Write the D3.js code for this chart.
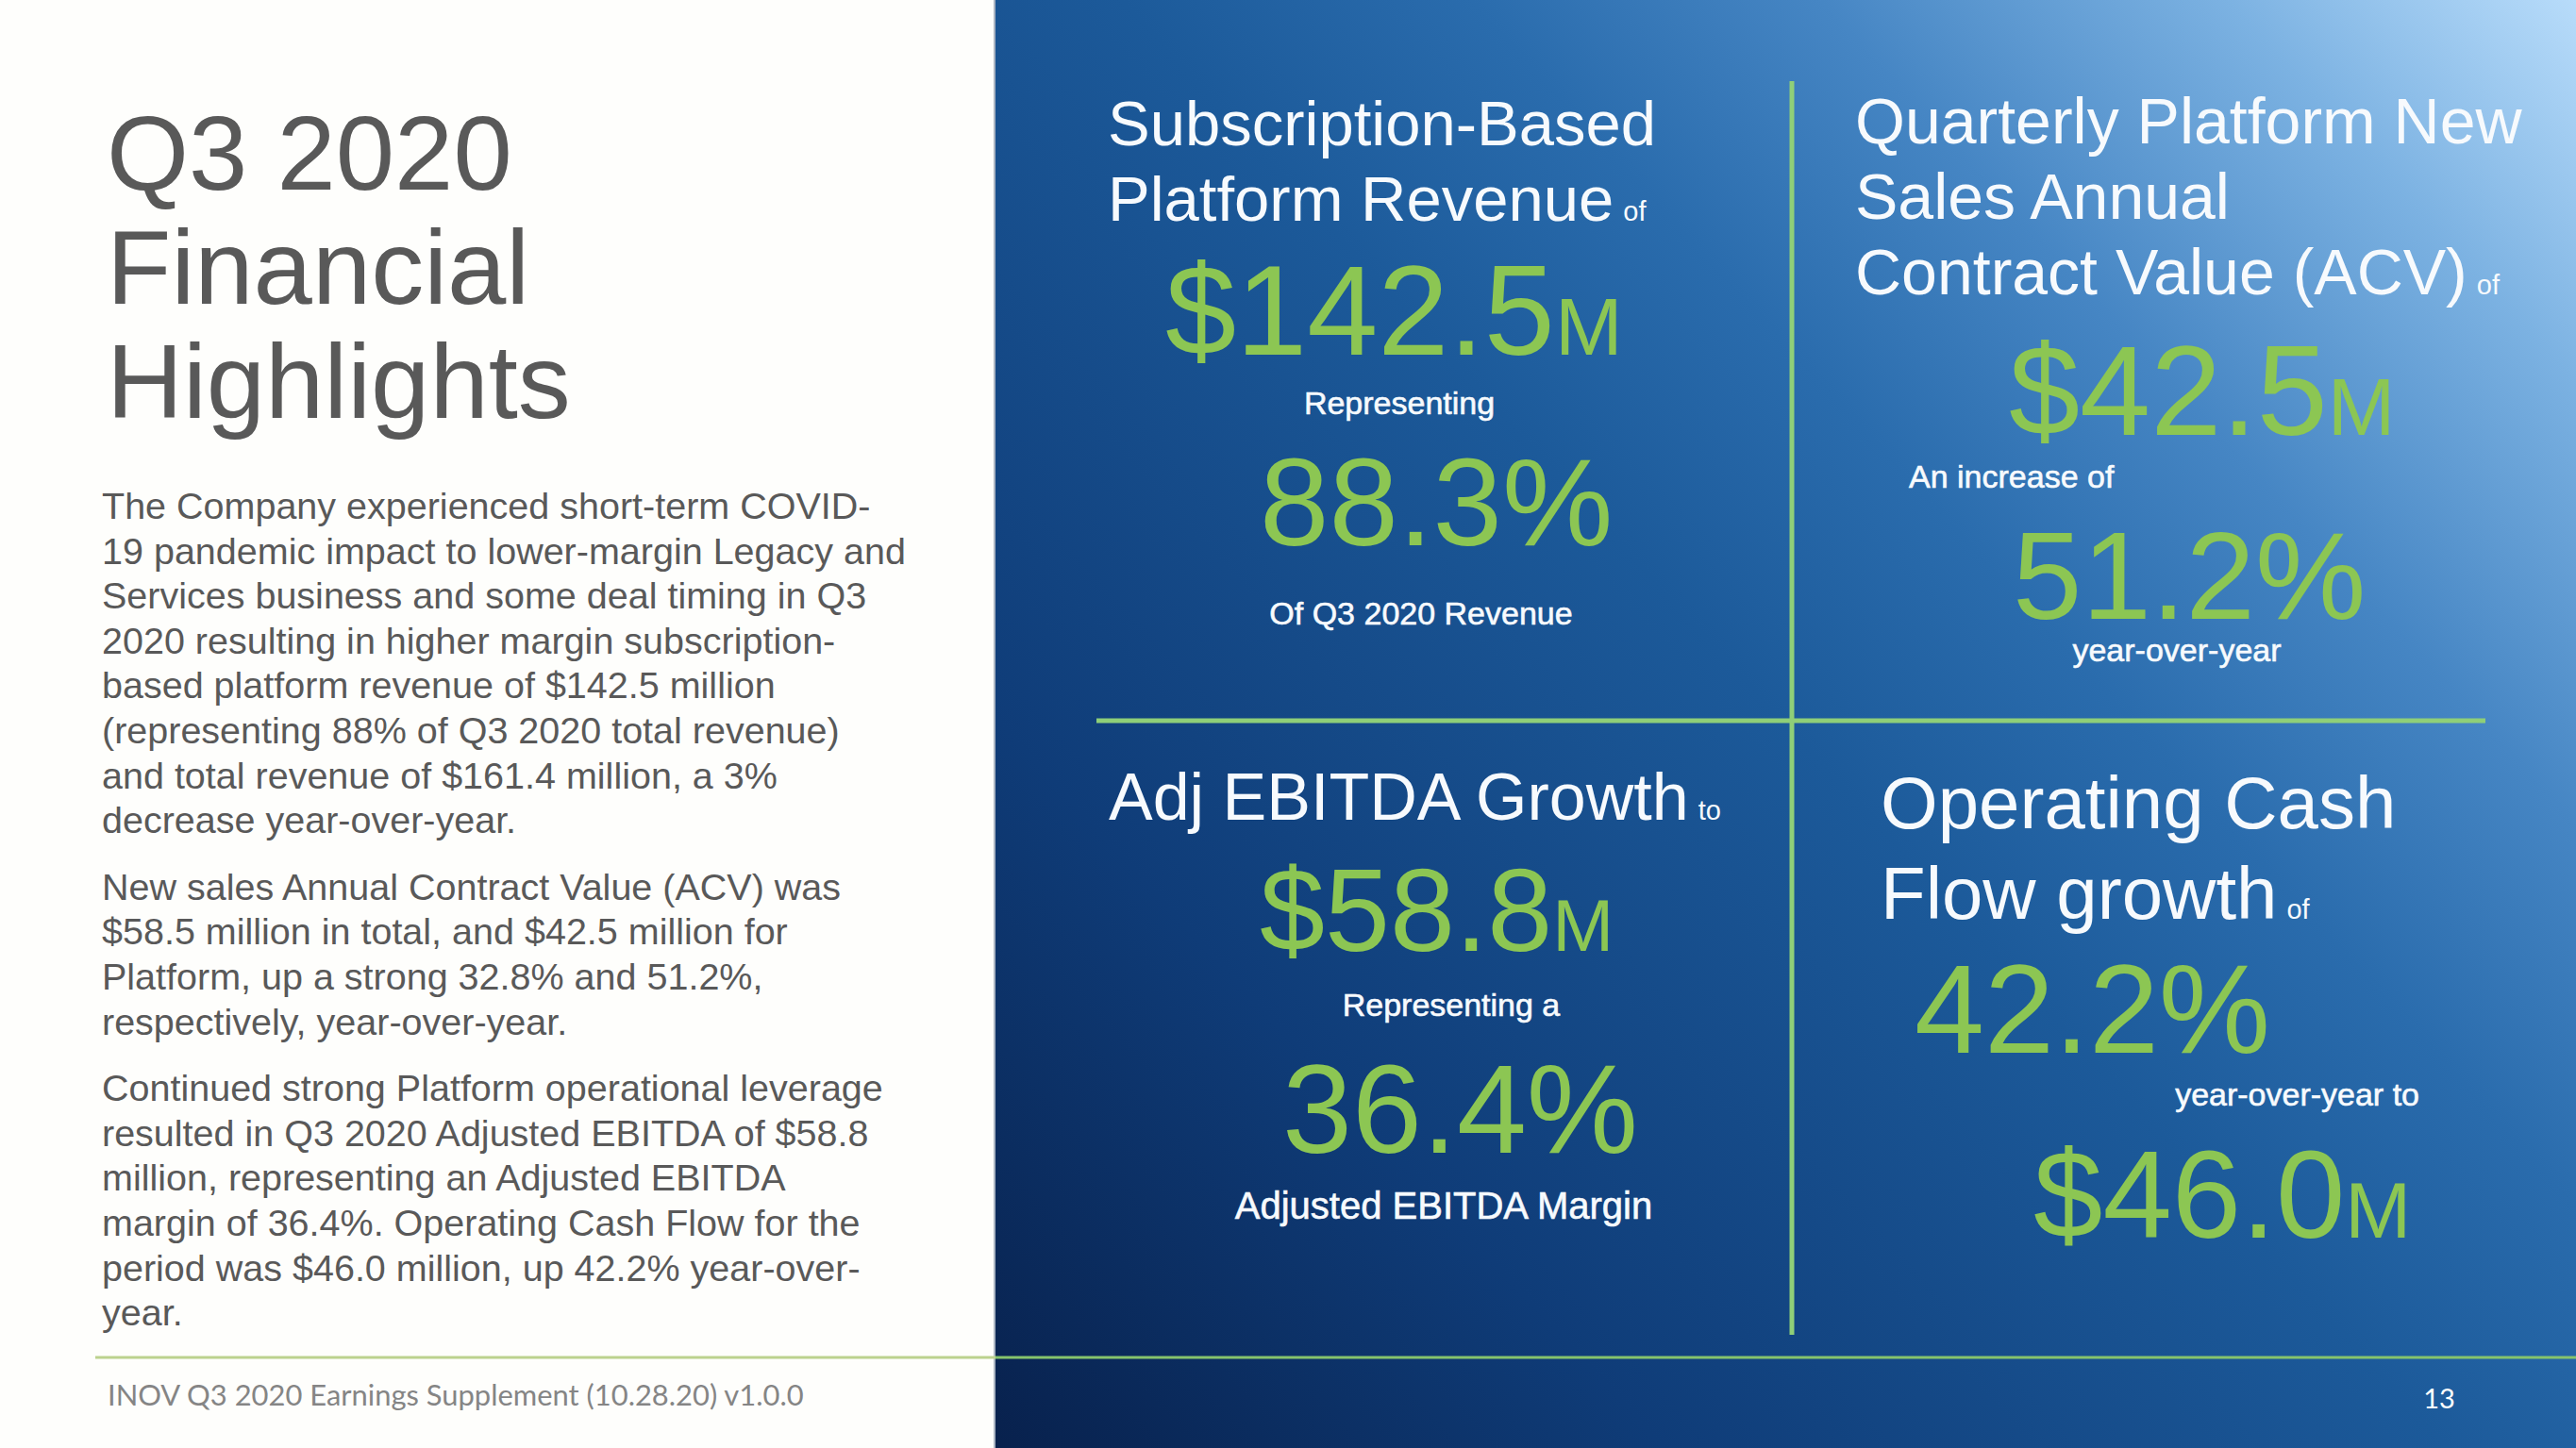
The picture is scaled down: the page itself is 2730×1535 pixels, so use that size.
<!DOCTYPE html>
<html>
<head>
<meta charset="utf-8">
<script src="https://cdn.jsdelivr.net/npm/d3@7"></script>
<style>
  html, body { margin: 0; padding: 0; background: #fefefc; }
  svg { display: block; }
</style>
</head>
<body>
<div id="chart"></div>
<script>
// ---------------- DATA ----------------
const slideTitle = ["Q3 2020", "Financial", "Highlights"];

const bodyParagraphs = [
  ["The Company experienced short-term COVID-",
   "19 pandemic impact to lower-margin Legacy and",
   "Services business and some deal timing in Q3",
   "2020 resulting in higher margin subscription-",
   "based platform revenue of $142.5 million",
   "(representing 88% of Q3 2020 total revenue)",
   "and total revenue of $161.4 million, a 3%",
   "decrease year-over-year."],
  ["New sales Annual Contract Value (ACV) was",
   "$58.5 million in total, and $42.5 million for",
   "Platform, up a strong 32.8% and 51.2%,",
   "respectively, year-over-year."],
  ["Continued strong Platform operational leverage",
   "resulted in Q3 2020 Adjusted EBITDA of $58.8",
   "million, representing an Adjusted EBITDA",
   "margin of 36.4%. Operating Cash Flow for the",
   "period was $46.0 million, up 42.2% year-over-",
   "year."]
];

const footerText = "INOV Q3 2020 Earnings Supplement (10.28.20) v1.0.0";
const pageNumber = "13";

// metric headlines (per quadrant) and their small connector words
const metricHeadlines = [
  ["Subscription-Based", "Platform Revenue"],
  ["Quarterly Platform New", "Sales Annual", "Contract Value (ACV)"],
  ["Adj EBITDA Growth"],
  ["Operating Cash", "Flow growth"]
];
const metricConnectors = ["of", "of", "to", "of"];

// big green figures: [main, unit]
const primaryFigures   = [["$142.5", "M"], ["$42.5", "M"], ["$58.8", "M"], ["42.2", "%"]];
const secondaryFigures = [["88.3", "%"], ["51.2", "%"], ["36.4", "%"], ["$46.0", "M"]];

// small white captions: [between figures, after second figure]
const captionsBetween = ["Representing", "An increase of", "Representing a", "year-over-year to"];
const captionsAfter   = ["Of Q3 2020 Revenue", "year-over-year", "Adjusted EBITDA Margin", ""];

// ---------------- LAYOUT ----------------
const W = 2730, H = 1535;
const FONT = "'Liberation Sans', Arial, Helvetica, sans-serif";
const GREEN = "#8cc653";
const LINE_GREEN = "#8fcf78";
const WHITE = "#f7fafd";
const GRAY = "#595959";

const svg = d3.select("#chart").append("svg")
  .attr("width", W).attr("height", H)
  .attr("viewBox", `0 0 ${W} ${H}`);

// background
svg.append("rect").attr("x", 0).attr("y", 0).attr("width", W).attr("height", H).attr("fill", "#fefefc");

const defs = svg.append("defs");
const panelX = 1055;
const grad = defs.append("linearGradient")
  .attr("id", "panelGrad")
  .attr("gradientUnits", "userSpaceOnUse")
  .attr("x1", panelX).attr("y1", H)
  .attr("x2", W).attr("y2", 0);
[[0, "#08214d"], [0.23, "#0f3c78"], [0.5, "#1c5a9a"], [0.62, "#2a6cad"],
 [0.74, "#4686c4"], [0.88, "#7cb2e2"], [1, "#b8dcfa"]]
  .forEach(([o, c]) => grad.append("stop").attr("offset", o).attr("stop-color", c));

svg.append("rect").attr("x", panelX).attr("y", 0)
  .attr("width", W - panelX).attr("height", H).attr("fill", "url(#panelGrad)");
svg.append("line").attr("x1", panelX - 1).attr("x2", panelX - 1)
  .attr("y1", 0).attr("y2", H).attr("stroke", "#aab4c2").attr("stroke-width", 2);

// ---- left side: title ----
const titleY = d3.scaleLinear().domain([0, 1]).range([201, 322]);
svg.append("g").selectAll("text").data(slideTitle).join("text")
  .attr("x", 113).attr("y", (d, i) => titleY(i))
  .attr("font-family", FONT).attr("font-size", 112).attr("fill", GRAY)
  .text(d => d);

// ---- left side: body paragraphs ----
const lineH = 47.6;
const paraGap = 23;
let by = 550;
const bodyG = svg.append("g");
bodyParagraphs.forEach((para, pi) => {
  bodyG.append("g").selectAll("text").data(para).join("text")
    .attr("x", 108).attr("y", (d, i) => by + i * lineH)
    .attr("font-family", FONT).attr("font-size", 39.5).attr("fill", GRAY)
    .text(d => d);
  by += para.length * lineH + paraGap;
});

// ---- bottom rule + footer ----
svg.append("line").attr("x1", 101).attr("x2", panelX).attr("y1", 1439).attr("y2", 1439)
  .attr("stroke", "#bcd28e").attr("stroke-width", 3);
svg.append("line").attr("x1", panelX).attr("x2", W).attr("y1", 1439).attr("y2", 1439)
  .attr("stroke", "#86c46c").attr("stroke-width", 3);

const footer = svg.append("text").attr("x", 114).attr("y", 1490)
  .attr("font-family", "Lato, 'Open Sans', sans-serif").attr("font-size", 30)
  .attr("fill", "#858585").text(footerText);
// fit footer to its original width
const fw = footer.node().getComputedTextLength();
footer.attr("font-size", 30 * 738 / fw);

svg.append("text").attr("x", 2585).attr("y", 1493).attr("text-anchor", "middle")
  .attr("font-family", "Lato, 'Open Sans', sans-serif").attr("font-size", 29)
  .attr("fill", "#ffffff").text(pageNumber);

// ---- grid lines of the panel ----
svg.append("line").attr("x1", 1899).attr("x2", 1899).attr("y1", 86).attr("y2", 1415)
  .attr("stroke", LINE_GREEN).attr("stroke-width", 5);
svg.append("line").attr("x1", 1162).attr("x2", 2634).attr("y1", 764).attr("y2", 764)
  .attr("stroke", LINE_GREEN).attr("stroke-width", 5);

// ---- quadrants ----
// layout per quadrant (positions only)
const quadLayout = [
  { hx: 1174, hy: 154, hStep: 80, hSize: 67,
    p: { x: 1235, y: 376, s: 135, u: 86 },
    c1: { x: 1483, y: 439, anchor: "middle", s: 34 },
    q: { x: 1335, y: 578, s: 132, u: 132 },
    c2: { x: 1506, y: 662, anchor: "middle", s: 34 } },
  { hx: 1966, hy: 152, hStep: 80, hSize: 68,
    p: { x: 2129, y: 461, s: 135, u: 86 },
    c1: { x: 2023, y: 517, anchor: "start", s: 34 },
    q: { x: 2133, y: 656, s: 132, u: 132 },
    c2: { x: 2307, y: 701, anchor: "middle", s: 34 } },
  { hx: 1175, hy: 869, hStep: 80, hSize: 70,
    p: { x: 1335, y: 1008, s: 124, u: 78 },
    c1: { x: 1538, y: 1077, anchor: "middle", s: 34 },
    q: { x: 1359, y: 1222, s: 133, u: 133 },
    c2: { x: 1530, y: 1292, anchor: "middle", s: 40 } },
  { hx: 1993, hy: 878, hStep: 96, hSize: 78,
    p: { x: 2029, y: 1116, s: 133, u: 133 },
    c1: { x: 2564, y: 1172, anchor: "end", s: 34 },
    q: { x: 2155, y: 1312, s: 132, u: 84 },
    c2: { x: 0, y: 0, anchor: "middle", s: 34 } }
];

const quads = svg.append("g").selectAll("g.quad")
  .data(d3.range(4)).join("g").attr("class", "quad");

quads.each(function (qi) {
  const g = d3.select(this);
  const L = quadLayout[qi];
  const lines = metricHeadlines[qi];

  // headline
  const ht = g.append("g").selectAll("text").data(lines).join("text")
    .attr("x", L.hx).attr("y", (d, i) => L.hy + i * L.hStep)
    .attr("font-family", FONT).attr("font-size", L.hSize).attr("fill", WHITE)
    .text(d => d);
  // connector word on the last headline line
  ht.filter((d, i) => i === lines.length - 1)
    .append("tspan").attr("font-size", 29).attr("dx", 10)
    .text(metricConnectors[qi]);

  function figure(fig, pos) {
    const t = g.append("text").attr("x", pos.x).attr("y", pos.y)
      .attr("font-family", FONT).attr("fill", GREEN).attr("font-size", pos.s);
    t.append("tspan").text(fig[0]);
    t.append("tspan").attr("font-size", pos.u).text(fig[1]);
  }
  function caption(txt, pos) {
    if (!txt) return;
    g.append("text").attr("x", pos.x).attr("y", pos.y)
      .attr("text-anchor", pos.anchor)
      .attr("font-family", FONT).attr("font-size", pos.s).attr("fill", WHITE)
      .attr("stroke", WHITE).attr("stroke-width", 0.6)
      .text(txt);
  }

  figure(primaryFigures[qi], L.p);
  caption(captionsBetween[qi], L.c1);
  figure(secondaryFigures[qi], L.q);
  caption(captionsAfter[qi], L.c2);
});
</script>
</body>
</html>
